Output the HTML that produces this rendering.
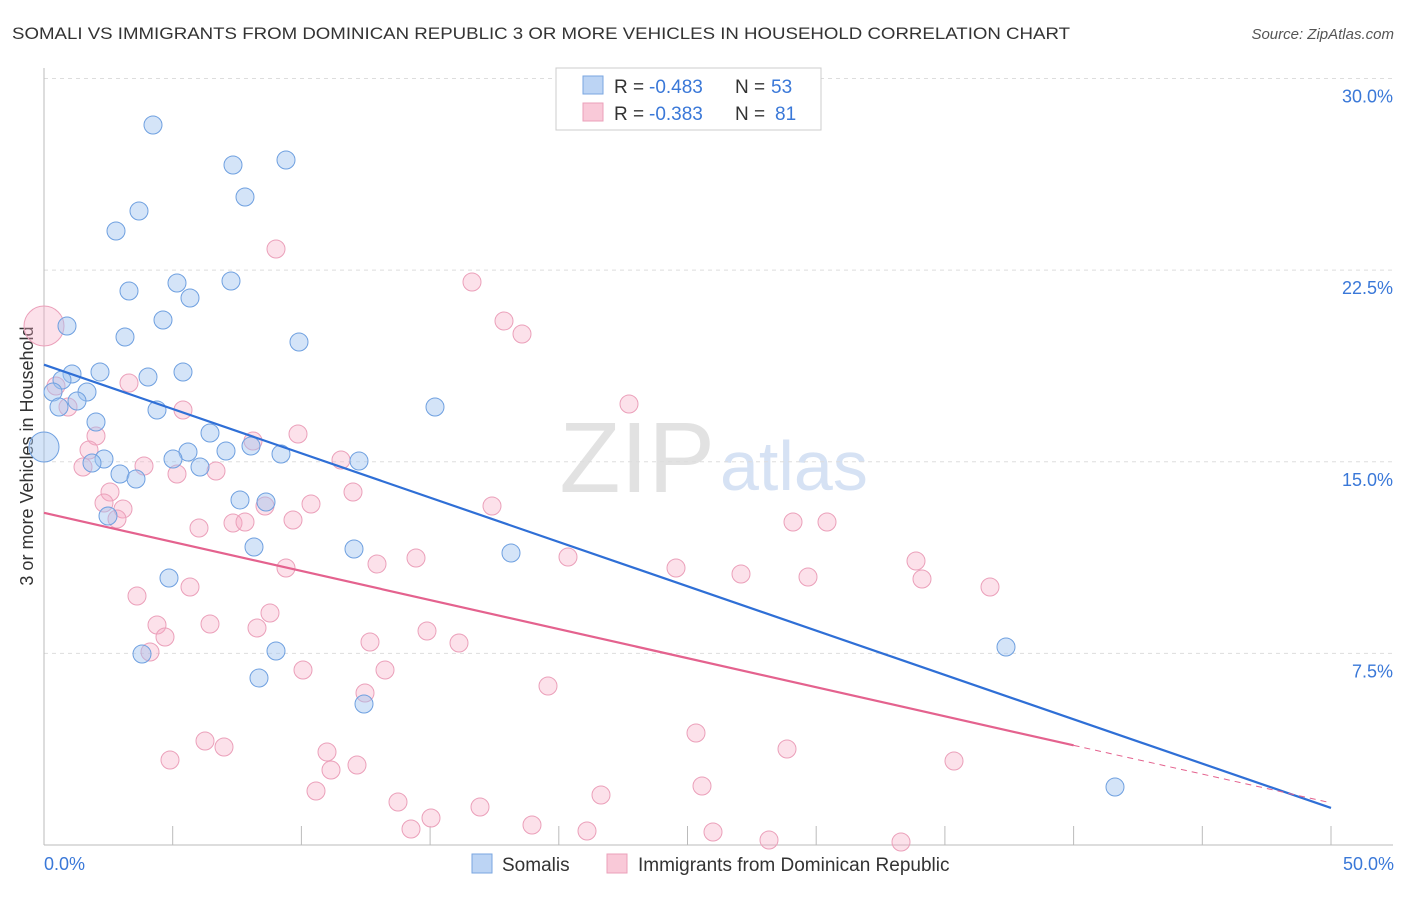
<!DOCTYPE html>
<html><head><meta charset="utf-8"><style>
body{margin:0;background:#fff;font-family:"Liberation Sans",sans-serif}
svg text{font-family:"Liberation Sans",sans-serif}
</style></head><body>
<svg id="c" width="1406" height="892">
<text x="12" y="39" font-size="17" fill="#333" textLength="1058" lengthAdjust="spacingAndGlyphs">SOMALI VS IMMIGRANTS FROM DOMINICAN REPUBLIC 3 OR MORE VEHICLES IN HOUSEHOLD CORRELATION CHART</text>
<text x="1394" y="39" font-size="15" fill="#555" text-anchor="end" font-style="italic">Source: ZipAtlas.com</text>
<text x="715" y="492" font-size="100" fill="#e2e2e2" text-anchor="end" font-family="Liberation Serif">ZIP</text>
<text x="720" y="490" font-size="70" fill="#d6e2f4">atlas</text>
<text transform="translate(33,456) rotate(-90)" font-size="18" fill="#333" text-anchor="middle">3 or more Vehicles in Household</text>
<g id="grid"></g><g id="pts"></g><g id="lines"></g>
<g>
<rect x="556" y="68" width="265" height="62" fill="#fff" stroke="#ccc"/>
<rect x="583" y="76" width="20" height="18" fill="#bcd4f4" stroke="#7aa6e0"/>
<rect x="583" y="103" width="20" height="18" fill="#f9c9d8" stroke="#eba0ba"/>
<text x="614" y="93" font-size="19" fill="#333">R =</text><text x="649" y="93" font-size="19" fill="#3a78d8">-0.483</text>
<text x="735" y="93" font-size="19" fill="#333">N =</text><text x="771" y="93" font-size="19" fill="#3a78d8">53</text>
<text x="614" y="120" font-size="19" fill="#333">R =</text><text x="649" y="120" font-size="19" fill="#3a78d8">-0.383</text>
<text x="735" y="120" font-size="19" fill="#333">N =</text><text x="775" y="120" font-size="19" fill="#3a78d8">81</text>
</g>
<g>
<rect x="472" y="854" width="20" height="19" fill="#bcd4f4" stroke="#7aa6e0"/>
<text x="502" y="871" font-size="19" fill="#333">Somalis</text>
<rect x="607" y="854" width="20" height="19" fill="#f9c9d8" stroke="#eba0ba"/>
<text x="638" y="871" font-size="19" fill="#333">Immigrants from Dominican Republic</text>
</g>
<text x="44" y="870" font-size="18" fill="#3a78d8">0.0%</text>
<text x="1394" y="870" font-size="18" fill="#3a78d8" text-anchor="end">50.0%</text>
</svg>
<script>
const yTicks=[30,22.5,15,7.5];
const blueX=[153,286,233,245,139,116,177,231,129,190,163,67,125,299,72,100,183,148,62,53,87,77,59,157,435,96,210,251,226,188,173,281,359,104,92,200,120,136,240,266,108,254,354,511,169,142,276,1006,259,364,1115];
const blueY=[125,160,165,197,211,231,283,281,291,298,320,326,337,342,374,372,372,377,380,392,392,401,407,410,407,422,433,446,451,452,459,454,461,459,463,467,474,479,500,502,516,547,549,553,578,654,651,647,678,704,787];
const pinkX=[276,472,504,522,56,129,68,183,629,96,253,298,89,341,144,83,177,216,353,110,104,265,311,492,123,117,233,199,245,293,793,827,568,416,377,286,676,741,808,916,922,990,190,137,270,157,210,257,165,150,427,370,459,303,385,548,365,696,205,224,327,787,954,170,331,357,702,316,601,398,480,431,411,532,587,713,769,901];
const pinkY=[249,282,321,334,386,383,407,410,404,436,441,434,450,460,466,467,474,471,492,492,503,506,504,506,509,519,523,528,522,520,522,522,557,558,564,568,568,574,577,561,579,587,587,596,613,625,624,628,637,652,631,642,643,670,670,686,693,733,741,747,752,749,761,760,770,765,786,791,795,802,807,818,829,825,831,832,840,842];
const blueTrend=[0,18.8,50,1.45];
const pinkTrend=[0,13.0,40,3.9,50,1.65];
const X=p=>(p-44)/25.74, Y=p=>(845-p)/25.55;
const sx=v=>44+v*25.74, sy=v=>845-v*25.55;
const NS='http://www.w3.org/2000/svg';
function mk(t,a,p){const e=document.createElementNS(NS,t);for(const k in a)e.setAttribute(k,a[k]);p.appendChild(e);return e;}
const g=document.getElementById('grid');
for(const t of yTicks){
 const l=mk('line',{x1:44,x2:1394,y1:sy(t),y2:sy(t),stroke:'#ddd','stroke-dasharray':'4,4'},g);
 
 
 const tx=mk('text',{x:1393,y:sy(t)+24,'font-size':18,fill:'#3a78d8','text-anchor':'end'},g);
 tx.textContent=t.toFixed(1)+'%';
 
 
}
mk('line',{x1:44,x2:44,y1:68,y2:845,stroke:'#bbb'},g);
mk('line',{x1:44,x2:1393,y1:845,y2:845,stroke:'#bbb'},g);
for(let i=1;i<=10;i++){const x=sx(i*5);mk('line',{x1:x,x2:x,y1:826,y2:845,stroke:'#bbb'},g);}
const P=document.getElementById('pts');
pinkX.forEach((x,i)=>{const c=mk('circle',{cx:sx(X(x)),cy:sy(Y(pinkY[i])),r:9,fill:'rgba(245,170,195,0.35)',stroke:'#eba0ba','stroke-width':1},P);
 
 });
const bp=mk('circle',{cx:44,cy:sy(Y(326)),r:20,fill:'rgba(245,170,195,0.35)',stroke:'#eba0ba'},P);


blueX.forEach((x,i)=>{const c=mk('circle',{cx:sx(X(x)),cy:sy(Y(blueY[i])),r:9,fill:'rgba(160,196,240,0.45)',stroke:'#6fa0e0','stroke-width':1},P);
 
 });
const bb=mk('circle',{cx:44,cy:sy(Y(447)),r:15,fill:'rgba(160,196,240,0.45)',stroke:'#6fa0e0'},P);


const L=document.getElementById('lines');
const b=mk('line',{x1:sx(blueTrend[0]),y1:sy(blueTrend[1]),x2:sx(blueTrend[2]),y2:sy(blueTrend[3]),stroke:'#2f6fd6','stroke-width':2.2},L);


const p1=mk('line',{x1:sx(pinkTrend[0]),y1:sy(pinkTrend[1]),x2:sx(pinkTrend[2]),y2:sy(pinkTrend[3]),stroke:'#e4628e','stroke-width':2.2},L);


const p2=mk('line',{x1:sx(pinkTrend[2]),y1:sy(pinkTrend[3]),x2:sx(pinkTrend[4]),y2:sy(pinkTrend[5]),stroke:'#e4628e','stroke-width':1,'stroke-dasharray':'6,5'},L);


</script>
</body></html>
